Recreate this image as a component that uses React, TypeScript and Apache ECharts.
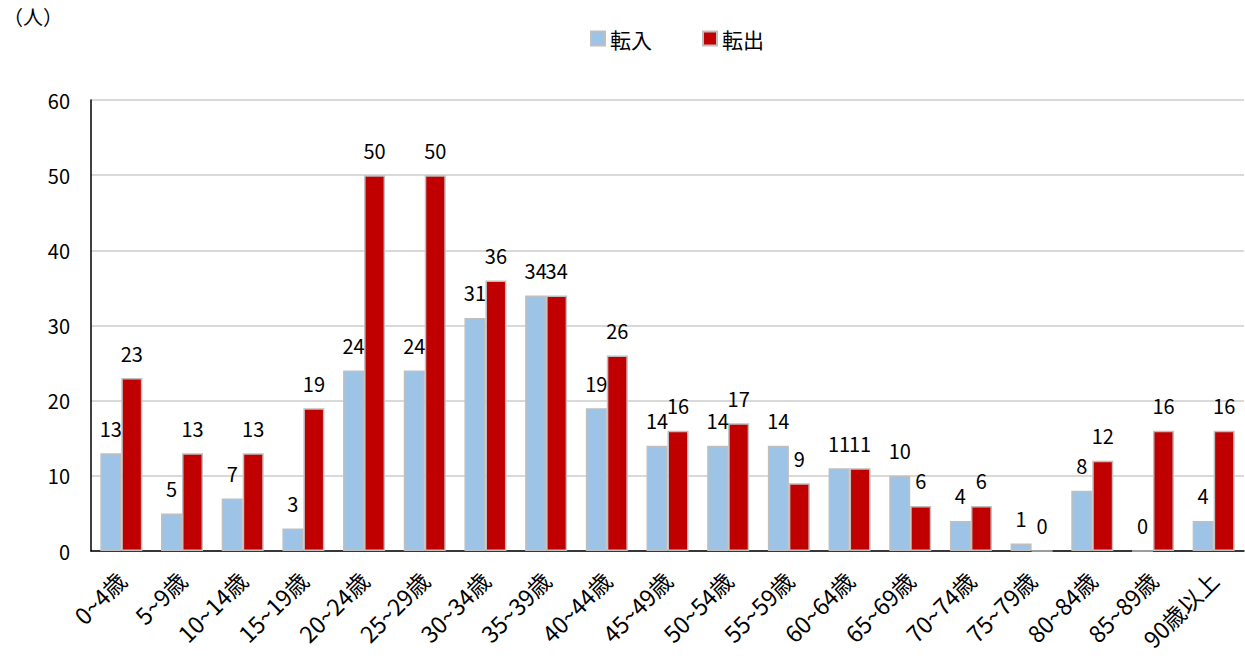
import React, { useEffect, useRef } from "react";
import * as echarts from "echarts";

const categories = [
  "0~4歳", "5~9歳", "10~14歳", "15~19歳", "20~24歳", "25~29歳", "30~34歳",
  "35~39歳", "40~44歳", "45~49歳", "50~54歳", "55~59歳", "60~64歳", "65~69歳",
  "70~74歳", "75~79歳", "80~84歳", "85~89歳", "90歳以上",
];
const tennyu = [13, 5, 7, 3, 24, 24, 31, 34, 19, 14, 14, 14, 11, 10, 4, 1, 8, 0, 4];
const tenshutsu = [23, 13, 13, 19, 50, 50, 36, 34, 26, 16, 17, 9, 11, 6, 6, 0, 12, 16, 16];
const yTicks = { min: 0, max: 60, interval: 10 };

const FONT = "'Noto Sans CJK JP', 'Noto Sans', sans-serif";

export default function App() {
  const ref = useRef<HTMLDivElement>(null);
  useEffect(() => {
    if (!ref.current) return;
    const chart = echarts.init(ref.current, undefined, { renderer: "svg" });
    const label = {
      show: true,
      position: "top" as const,
      distance: 15,
      color: "#000",
      fontSize: 20,
      fontFamily: FONT,
    };
    chart.setOption({
      animation: false,
      backgroundColor: "#fff",
      textStyle: { fontFamily: FONT },
      graphic: [
        {
          type: "text",
          left: 3,
          top: 6,
          style: { text: "（人）", fontSize: 20, fill: "#000", fontFamily: FONT },
        },
      ],
      legend: {
        top: 23,
        left: 585,
        itemWidth: 14,
        itemHeight: 14,
        itemGap: 50,
        icon: "rect",
        textStyle: { fontSize: 21, color: "#000", fontFamily: FONT },
        data: ["転入", "転出"],
      },
      grid: { left: 91, right: 1, top: 100, bottom: 109 },
      xAxis: {
        type: "category",
        data: categories,
        axisLine: { lineStyle: { color: "#000", width: 1.5 } },
        axisTick: { show: false },
        axisLabel: {
          interval: 0,
          rotate: 45,
          fontSize: 23,
          color: "#000",
          fontFamily: FONT,
          margin: 25,
        },
      },
      yAxis: {
        type: "value",
        min: yTicks.min,
        max: yTicks.max,
        interval: yTicks.interval,
        axisLine: { show: true, lineStyle: { color: "#000", width: 1.5 } },
        axisTick: { show: false },
        splitLine: { lineStyle: { color: "#d9d9d9", width: 2 } },
        axisLabel: { fontSize: 20, color: "#000", fontFamily: FONT, margin: 21 },
      },
      series: [
        {
          name: "転入",
          type: "bar",
          data: tennyu,
          barWidth: 21,
          barGap: "0%",
          itemStyle: { color: "#9dc3e6", borderColor: "#bfbfbf", borderWidth: 1.5 },
          label,
        },
        {
          name: "転出",
          type: "bar",
          data: tenshutsu,
          barWidth: 21,
          barGap: "0%",
          itemStyle: { color: "#c00000", borderColor: "#bfbfbf", borderWidth: 1.5 },
          label,
        },
      ],
    });
    return () => chart.dispose();
  }, []);
  return (
    <div
      ref={ref}
      style={{ position: "fixed", left: 0, top: 0, width: 1245, height: 660 }}
    />
  );
}
